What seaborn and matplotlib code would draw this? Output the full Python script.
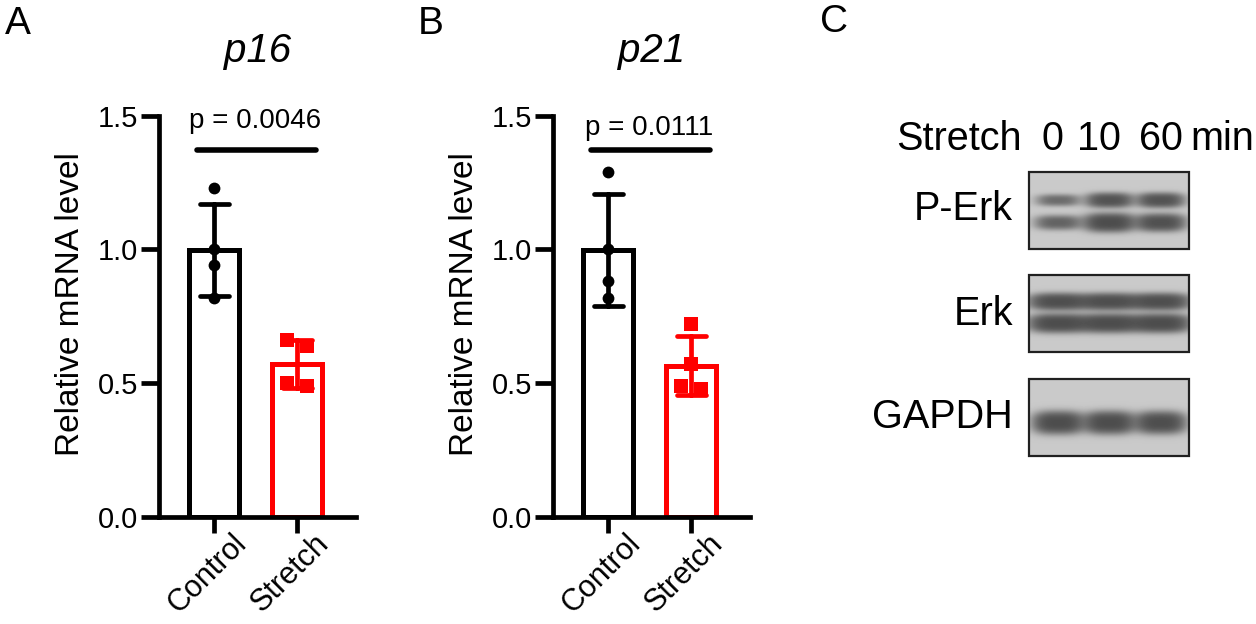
import numpy as np
import pandas as pd
import seaborn as sns
import matplotlib
matplotlib.use("Agg")
from matplotlib import pyplot as plt
from matplotlib.patches import Rectangle
from matplotlib.transforms import ScaledTranslation

# qPCR data (relative mRNA level, n = 4 per group)
groups = ["Control", "Stretch"]
p16_control = [1.23, 1.00, 0.94, 0.82]
p16_stretch = [0.64, 0.66, 0.49, 0.50]
p21_control = [1.29, 1.00, 0.88, 0.82]
p21_stretch = [0.72, 0.57, 0.48, 0.49]
p_values = ["p = 0.0046", "p = 0.0111"]
genes = ["p16", "p21"]

# western blot band intensities (0 = none, 1 = saturated), lanes 0 / 10 / 60 min
lanes = ["0", "10", "60"]
perk_upper = [0.50, 0.85, 0.85]
perk_lower = [0.60, 1.00, 0.90]
erk_upper = [0.95, 0.95, 0.95]
erk_lower = [1.00, 1.00, 1.00]
gapdh_band = [1.00, 1.00, 0.97]
blot_names = ["P-Erk", "Erk", "GAPDH"]

colors = {"Control": "black", "Stretch": "#ff0000"}

sns.set_style("ticks")
plt.rcParams["font.family"] = ["Liberation Sans", "DejaVu Sans"]
plt.rcParams["text.color"] = "black"
plt.rcParams["axes.labelcolor"] = "black"
plt.rcParams["xtick.color"] = "black"
plt.rcParams["ytick.color"] = "black"
plt.rcParams["axes.edgecolor"] = "black"

fig = plt.figure(figsize=(12.56, 6.24), dpi=100)
swarms = []


def make_df(ctrl, stre):
    return pd.DataFrame({
        "group": ["Control"] * len(ctrl) + ["Stretch"] * len(stre),
        "value": list(ctrl) + list(stre),
    })


def center_rows(coll, tol=0.05, spacing=0.25):
    # swarm rows are centred on the category like GraphPad does
    pts = coll.get_offsets().copy()
    if len(pts) == 0:
        return
    center = round(pts[:, 0].mean())
    order = np.argsort(pts[:, 1])
    rows, cur = [], [order[0]]
    for i in order[1:]:
        if pts[i, 1] - pts[cur[-1], 1] < tol:
            cur.append(i)
        else:
            rows.append(cur)
            cur = [i]
    rows.append(cur)
    for r in rows:
        r = sorted(r, key=lambda j: pts[j, 0])
        n = len(r)
        for k, j in enumerate(r):
            pts[j, 0] = center + (k - (n - 1) / 2) * spacing
    if "draw" in coll.__dict__:
        del coll.draw
    coll.set_offsets(pts)


def bar_panel(ax, df, gene, ptext, ptext_y):
    sns.barplot(data=df, x="group", y="value", hue="group", order=groups,
                palette=colors, fill=False, errorbar="sd", capsize=0.35,
                width=0.6, linewidth=3.6, err_kws={"linewidth": 3.4},
                legend=False, ax=ax)
    n0 = len(ax.collections)
    sns.swarmplot(data=df[df.group == "Control"], x="group", y="value",
                  order=groups, color="black", marker="o", size=8.5, ax=ax)
    sns.swarmplot(data=df[df.group == "Stretch"], x="group", y="value",
                  order=groups, color="#ff0000", marker="s", size=9.5, ax=ax)
    swarms.extend(ax.collections[n0:])
    ax.set_xlim(-0.663, 1.71)
    ax.set_ylim(0, 1.5)
    ax.set_yticks([0, 0.5, 1.0, 1.5])
    ax.set_yticklabels(["0.0", "0.5", "1.0", "1.5"])
    sns.despine(ax=ax)
    for s in ["left", "bottom"]:
        ax.spines[s].set_linewidth(3.4)
    ax.tick_params(axis="y", length=13, width=3.4, labelsize=21, pad=2)
    ax.tick_params(axis="x", length=11.5, width=3.4, labelsize=22, pad=2)
    ax.set_xlabel("")
    ax.set_ylabel("Relative mRNA level", fontsize=24)
    ax.yaxis.set_label_coords(-0.37, 0.53)
    off = ScaledTranslation(0.17, 0.07, fig.dpi_scale_trans)
    for lab in ax.get_xticklabels():
        lab.set_rotation(45)
        lab.set_ha("right")
        lab.set_va("top")
        lab.set_rotation_mode("anchor")
        lab.set_transform(lab.get_transform() + off)
    # significance bar
    ax.plot([-0.21, 1.23], [1.373, 1.373], color="black", lw=4,
            solid_capstyle="round", clip_on=False)
    ax.text(0.5, ptext_y, ptext, ha="center", va="center", fontsize=20,
            clip_on=False)
    ax.text(0.53, 1.74, gene, ha="center", va="center", fontsize=29,
            style="italic", clip_on=False)


axA = fig.add_axes([0.1266, 0.1715, 0.1568, 0.6433])
bar_panel(axA, make_df(p16_control, p16_stretch), genes[0], p_values[0], 1.48)
axB = fig.add_axes([0.4403, 0.1715, 0.1568, 0.6433])
bar_panel(axB, make_df(p21_control, p21_stretch), genes[1], p_values[1], 1.455)

# let seaborn lay out the swarms once, then centre each row
fig.canvas.draw()
for coll in swarms:
    center_rows(coll)

# overlay in pixel coordinates for panel letters and the blot panel
ov = fig.add_axes([0, 0, 1, 1], facecolor="none")
ov.set_xlim(0, 1256)
ov.set_ylim(624, 0)
ov.axis("off")

for letter, x, y in [("A", 18, 24), ("B", 431, 24), ("C", 834, 22)]:
    ov.text(x, y, letter, ha="center", va="center", fontsize=28)

ov.text(896, 150, "Stretch", ha="left", va="baseline", fontsize=28.5)
for lab, x in zip(lanes, [1052, 1099, 1161]):
    ov.text(x, 150, lab, ha="center", va="baseline", fontsize=28.5)
ov.text(1190, 150, "min", ha="left", va="baseline", fontsize=28.5)


def blot_image(bands, W=160, H=77):
    yy, xx = np.mgrid[0:H, 0:W]
    lane_x = [0.18, 0.50, 0.82]
    dark = np.zeros((H, W))
    for amps, yfrac, wx, wy in bands:
        for i, a in enumerate(amps):
            ty = wy * (0.55 + 0.55 * a)
            dark += a * np.exp(-(np.abs(xx - lane_x[i] * W) / (wx * (0.85 + 0.15 * a))) ** 3) \
                * np.exp(-(np.abs(yy - yfrac * H) / ty) ** 2.5)
    dark = 1 - np.exp(-2.2 * dark)
    return 0.79 - 0.55 * dark


blots = [
    [(perk_upper, 0.36, 22, 6.5), (perk_lower, 0.65, 23, 7.5)],
    [(erk_upper, 0.34, 27, 7), (erk_lower, 0.62, 27, 7.5)],
    [(gapdh_band, 0.56, 23, 9)],
]
box_tops = [172, 275, 379]
label_base = [220, 325, 428]
for name, bands, top, base in zip(blot_names, blots, box_tops, label_base):
    img = blot_image(bands)
    ov.imshow(img, cmap="gray", vmin=0, vmax=1, extent=(1029, 1189, top + 77, top),
              origin="upper", interpolation="bilinear", aspect="auto")
    ov.add_patch(Rectangle((1029, top), 160, 77, fill=False, edgecolor="#202020",
                           linewidth=1.6))
    ov.text(1013, base, name, ha="right", va="baseline", fontsize=28.5)

ov.set_xlim(0, 1256)
ov.set_ylim(624, 0)

plt.savefig("out.png", dpi=100)
